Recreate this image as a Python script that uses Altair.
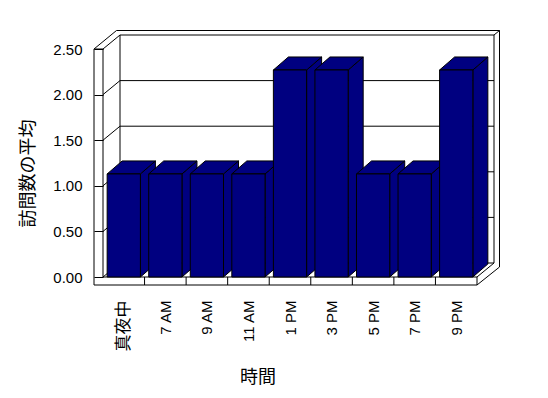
import altair as alt
import pandas as pd

# ---------------- data ----------------
categories = ["真夜中", "7 AM", "9 AM", "11 AM", "1 PM", "3 PM", "5 PM", "7 PM", "9 PM"]
values = [1.13, 1.13, 1.13, 1.13, 2.27, 2.27, 1.13, 1.13, 2.27]
y_ticks = [0.0, 0.5, 1.0, 1.5, 2.0, 2.5]
grid_values = [0.5, 1.0, 1.5, 2.0]
x_title = "時間"
y_title = "訪問数の平均"

# ---------------- geometry / style ----------------
W, H = 374, 228
N = len(categories)
YMAX = 2.5
UX = W / N
UY = H / YMAX
NAVY = "#000080"
LATIN = "Liberation Sans, Noto Sans CJK JP"
CJK = "Noto Sans CJK JP, Liberation Sans"

CD = (17, 14)      # chart depth (px right, px up)
BD = (15, 13)      # bar depth
WT = 9             # left wall thickness px
FT = 8             # floor thickness px
OUT = (22.5, 18.5) # back wall outer edge
BL, BR = 0.1, 0.9  # bar extent inside its band


def F(x, y, dx=0.0, dy=0.0):
    return (x + dx / UX, y + dy / UY)


segs = []


def seg(a, b):
    segs.append({"x": a[0], "y": a[1], "x2": b[0], "y2": b[1]})


# left wall
seg(F(0, YMAX, -WT, 0), F(0, 0, -WT, -FT))
seg(F(0, YMAX), F(0, 0))
seg(F(0, YMAX, -WT, 0), F(0, YMAX))
seg(F(0, YMAX), F(0, YMAX, *CD))
seg(F(0, YMAX, -WT, 0), F(0, YMAX, OUT[0] - WT, OUT[1]))
# back wall
seg(F(0, YMAX, *CD), F(N, YMAX, *CD))
seg(F(0, YMAX, OUT[0] - WT, OUT[1]), F(N, YMAX, *OUT))
seg(F(N, YMAX, *CD), F(N, YMAX, *OUT))
seg(F(N, YMAX, *CD), F(N, 0, *CD))
seg(F(N, YMAX, *OUT), F(N, 0, OUT[0], 10))
seg(F(0, 0, *CD), F(N, 0, *CD))
seg(F(0, 0, *CD), F(0, YMAX, *CD))
seg(F(0, 0), F(0, 0, *CD))
# floor
seg(F(0, 0), F(N, 0))
seg(F(0, 0, -WT, -FT), F(N, 0, 0, -FT))
seg(F(N, 0), F(N, 0, 0, -FT))
seg(F(N, 0), F(N, 0, *CD))
seg(F(N, 0, 0, -FT), F(N, 0, OUT[0], 10))
for i in range(1, N):
    seg(F(i, 0), F(i, 0, 0, -FT))
# gridlines on walls
for v in grid_values:
    seg(F(0, v), F(0, v, *CD))
    seg(F(0, v, *CD), F(N, v, *CD))

frame = pd.DataFrame(segs)

front_rows, top_rows, side_rows = [], [], []
dxb, dyb = BD[0] / UX, BD[1] / UY
for i, (c, v) in enumerate(zip(categories, values)):
    front_rows.append({"cat": c, "x": i + BL, "x2": i + BR, "y": 0.0, "y2": v})
    top_rows.append({"cat": c, "y": v, "x": i + BL, "x2": i + BR})
    top_rows.append({"cat": c, "y": v + dyb, "x": i + BL + dxb, "x2": i + BR + dxb})
    side_rows.append({"cat": c, "x": i + BR, "y": 0.0, "y2": v})
    side_rows.append({"cat": c, "x": i + BR + dxb, "y": dyb, "y2": v + dyb})

front = pd.DataFrame(front_rows)
top = pd.DataFrame(top_rows)
side = pd.DataFrame(side_rows)

xs = alt.Scale(domain=[0, N], nice=False, zero=False)
ys = alt.Scale(domain=[0, YMAX], nice=False, zero=False)

label_expr = "[" + ",".join("'" + c + "'" for c in categories) + "][floor(datum.value)]"

x_axis = alt.Axis(
    values=[i + 0.5 for i in range(N)], labelExpr=label_expr,
    title=x_title, ticks=False, tickSize=0, domain=False, grid=False,
    labelAngle=270, labelAlign="right", labelBaseline="middle", labelPadding=23,
    labelFont=LATIN,
    labelFontSize={"condition": {"test": "datum.value < 1", "value": 17}, "value": 15},
    labelColor="black",
    labelOverlap=False, labelFlush=False,
    titleFont=CJK, titleFontSize=18, titleFontWeight="normal", titleColor="black",
    titleX=154.5, titleY=100, titleAlign="center", titleBaseline="middle",
)
y_axis = alt.Axis(
    values=y_ticks, format=".2f", ticks=True, tickSize=9, tickColor="black",
    tickWidth=1, domain=False, grid=False, labelPadding=12,
    labelFont=LATIN, labelFontSize=15, labelColor="black",
    labelOverlap=False, labelFlush=False,
    title=y_title, titleFont=CJK, titleFontSize=18, titleFontWeight="normal",
    titleColor="black", titleAngle=270, titleX=-75, titleY=124,
    titleAlign="center", titleBaseline="middle",
)

frame_layer = alt.Chart(frame).mark_rule(color="black", strokeWidth=1).encode(
    x=alt.X("x:Q", scale=xs, axis=x_axis),
    y=alt.Y("y:Q", scale=ys, axis=y_axis),
    x2="x2:Q", y2="y2:Q",
)

side_layer = alt.Chart(side).mark_area(
    orient="vertical", color=NAVY, stroke="black", strokeWidth=1, opacity=1
).encode(
    x=alt.X("x:Q", scale=xs, axis=x_axis),
    y=alt.Y("y:Q", scale=ys, axis=y_axis, stack=False),
    y2="y2:Q",
    detail="cat:N",
)

top_layer = alt.Chart(top).mark_area(
    orient="horizontal", color=NAVY, stroke="black", strokeWidth=1, opacity=1
).encode(
    y=alt.Y("y:Q", scale=ys, axis=y_axis),
    x=alt.X("x:Q", scale=xs, axis=x_axis, stack=False),
    x2="x2:Q",
    detail="cat:N",
)

front_layer = alt.Chart(front).mark_rect(
    color=NAVY, stroke="black", strokeWidth=1
).encode(
    x=alt.X("x:Q", scale=xs, axis=x_axis),
    x2="x2:Q",
    y=alt.Y("y:Q", scale=ys, axis=y_axis),
    y2="y2:Q",
)

chart = alt.layer(frame_layer, side_layer, top_layer, front_layer).properties(
    width=W, height=H,
    autosize=alt.AutoSizeParams(type="none"),
    padding={"left": 103, "top": 49, "right": 71, "bottom": 121},
    background="white",
).configure_view(strokeWidth=0)

chart.save("out.html", embed_options={"renderer": "svg", "actions": False})
